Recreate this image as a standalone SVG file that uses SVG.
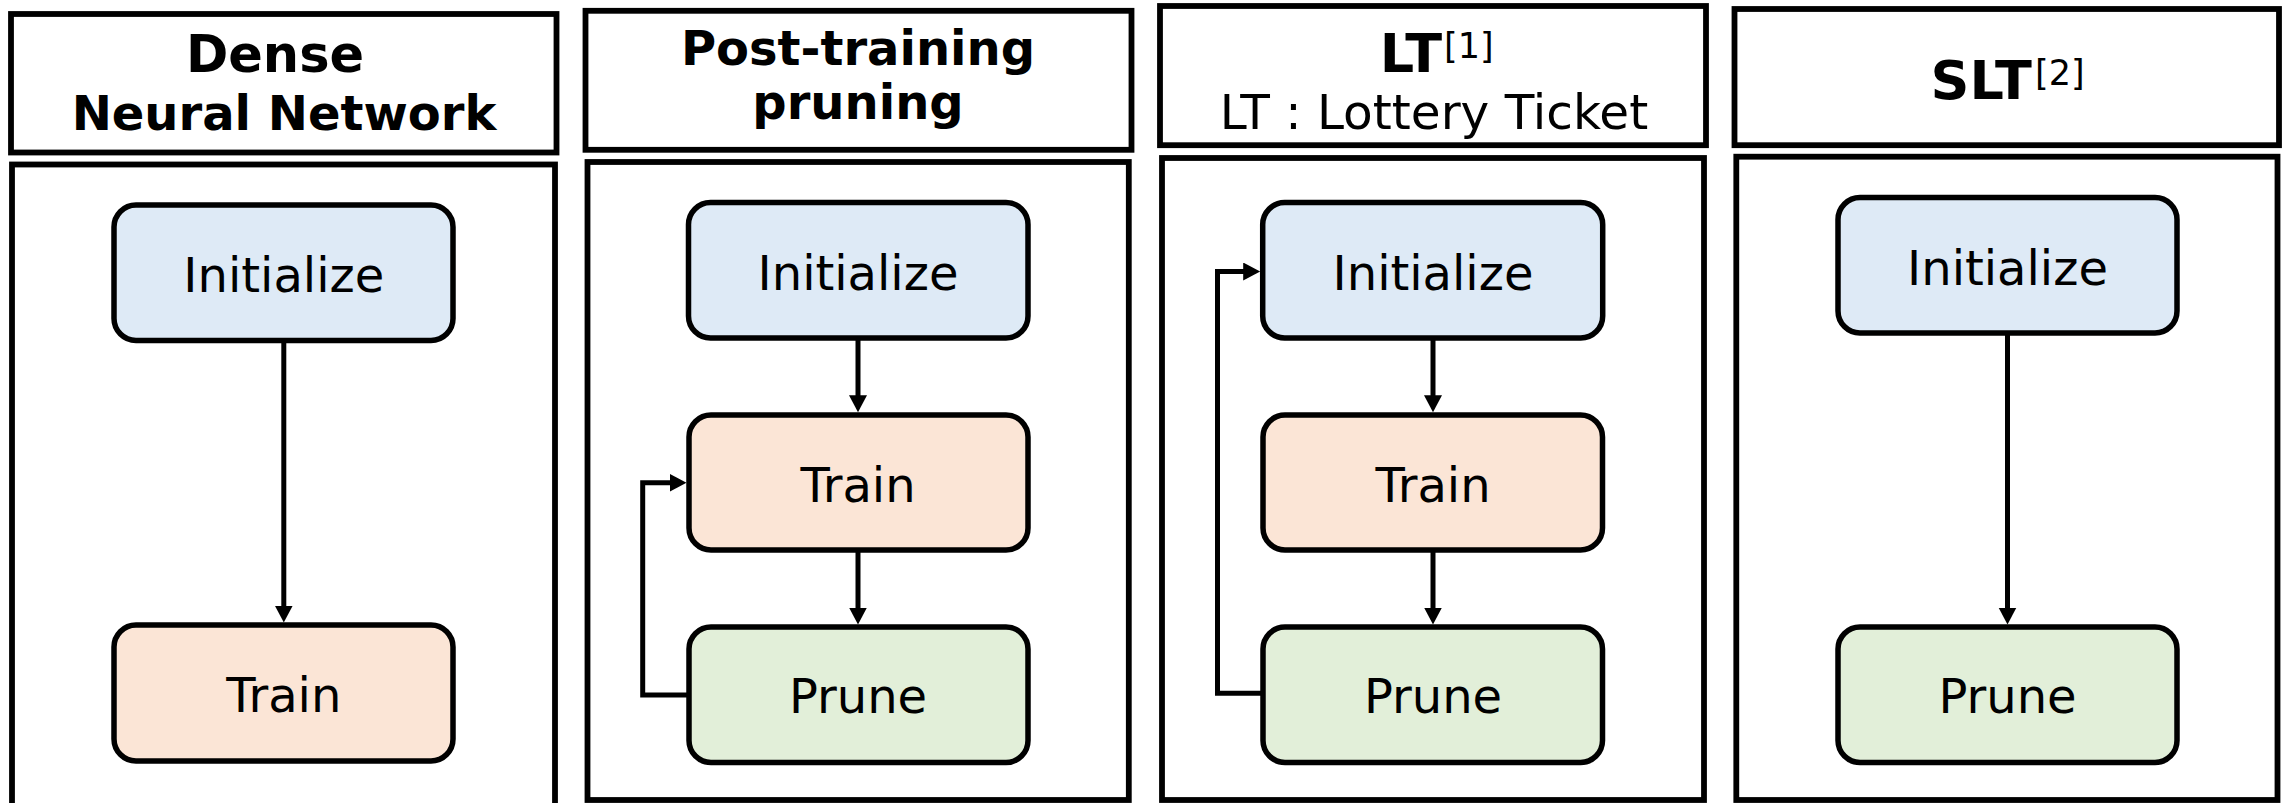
<svg xmlns="http://www.w3.org/2000/svg" width="2282" height="803" viewBox="0 0 2282 803">
  <defs>
    <style>
      .frame { fill: #ffffff; stroke: #000000; stroke-width: 5.8; }
      .box { stroke: #000000; stroke-width: 5.5; }
      .init { fill: #DEEAF6; }
      .train { fill: #FBE5D6; }
      .prune { fill: #E2EFD9; }
      .lbl { font-family: "DejaVu Sans", Verdana, sans-serif; font-size: 48px; fill: #000000; text-anchor: middle; }
      .ttl { font-family: "DejaVu Sans", Verdana, sans-serif; font-weight: bold; font-size: 48px; fill: #000000; text-anchor: middle; }
      .big { font-family: "DejaVu Sans", Verdana, sans-serif; font-weight: bold; font-size: 54px; fill: #000000; text-anchor: end; }
      .sup { font-family: "DejaVu Sans", Verdana, sans-serif; font-size: 35px; fill: #000000; text-anchor: start; }
      .edge { fill: none; stroke: #000000; stroke-width: 5; }
    </style>
    <marker id="head" markerUnits="userSpaceOnUse" markerWidth="18" markerHeight="19" refX="8" refY="9" orient="auto">
      <path d="M0,0 L17,9 L0,18 z" fill="#000000"/>
    </marker>
  </defs>

  <rect width="2282" height="803" fill="#ffffff"/>

  <!-- Column 1: dense network -->
  <g id="dense-panel">
    <rect class="frame" x="11" y="14" width="545.5" height="138.5"/>
    <text class="ttl" x="275" y="71.7" style="font-size:51px">Dense</text>
    <text class="ttl" x="284" y="130">Neural Network</text>
    <rect class="frame" x="12" y="164.5" width="543" height="700"/>
  </g>
  <g id="dense-init">
    <rect class="box init" x="114" y="205" width="339" height="135.5" rx="22"/>
    <text class="lbl" x="283.8" y="291.7">Initialize</text>
  </g>
  <g id="dense-train">
    <rect class="box train" x="114" y="625" width="339" height="136" rx="22"/>
    <text class="lbl" x="283.8" y="711.7">Train</text>
  </g>

  <!-- Column 2: post-training pruning -->
  <g id="post-panel">
    <rect class="frame" x="585.5" y="10.8" width="546" height="139"/>
    <text class="ttl" x="858" y="65">Post-training</text>
    <text class="ttl" x="858" y="119">pruning</text>
    <rect class="frame" x="587.5" y="162" width="541.3" height="638"/>
  </g>
  <g id="post-init">
    <rect class="box init" x="688.5" y="202.5" width="339.5" height="135.5" rx="22"/>
    <text class="lbl" x="858" y="290">Initialize</text>
  </g>
  <g id="post-train">
    <rect class="box train" x="689" y="415" width="339" height="135" rx="22"/>
    <text class="lbl" x="858" y="501.7">Train</text>
  </g>
  <g id="post-prune">
    <rect class="box prune" x="689" y="627" width="339" height="135.5" rx="22"/>
    <text class="lbl" x="858" y="713.3">Prune</text>
  </g>

  <!-- Column 3: lottery ticket -->
  <g id="lt-panel">
    <rect class="frame" x="1160" y="6" width="546" height="139.2"/>
    <text class="big" x="1442" y="71.7">LT</text>
    <text class="sup" x="1444" y="58">[1]</text>
    <text class="lbl" x="1434" y="129.3" style="font-size:48.5px">LT : Lottery Ticket</text>
    <rect class="frame" x="1162" y="158" width="542" height="642"/>
  </g>
  <g id="lt-init">
    <rect class="box init" x="1262.7" y="202.5" width="340" height="135.5" rx="22"/>
    <text class="lbl" x="1433" y="290">Initialize</text>
  </g>
  <g id="lt-train">
    <rect class="box train" x="1263" y="415" width="339.5" height="135" rx="22"/>
    <text class="lbl" x="1433" y="501.7">Train</text>
  </g>
  <g id="lt-prune">
    <rect class="box prune" x="1263" y="627" width="339.5" height="135.5" rx="22"/>
    <text class="lbl" x="1433" y="713.3">Prune</text>
  </g>

  <!-- Column 4: strong lottery ticket -->
  <g id="slt-panel">
    <rect class="frame" x="1734.5" y="9" width="544.5" height="136.2"/>
    <text class="big" x="2031.8" y="99">SLT</text>
    <text class="sup" x="2035" y="85">[2]</text>
    <rect class="frame" x="1736.3" y="156.7" width="541.2" height="643.3"/>
  </g>
  <g id="slt-init">
    <rect class="box init" x="1838" y="197.5" width="339" height="135.5" rx="22"/>
    <text class="lbl" x="2007.5" y="285">Initialize</text>
  </g>
  <g id="slt-prune">
    <rect class="box prune" x="1838" y="627" width="339" height="135.5" rx="22"/>
    <text class="lbl" x="2007.5" y="713.3">Prune</text>
  </g>

  <!-- Connectors -->
  <g id="connectors">
    <path class="edge" marker-end="url(#head)" d="M283.8,340.5 V613.5"/>

    <path class="edge" marker-end="url(#head)" d="M858,338 V403.3"/>
    <path class="edge" marker-end="url(#head)" d="M858,550 V615.5"/>
    <path class="edge" marker-end="url(#head)" d="M689,695 H642.7 V482.8 H677.5"/>

    <path class="edge" marker-end="url(#head)" d="M1433,338 V403.3"/>
    <path class="edge" marker-end="url(#head)" d="M1433,550 V615.5"/>
    <path class="edge" marker-end="url(#head)" d="M1263,693.3 H1217.5 V271.5 H1251.2"/>

    <path class="edge" marker-end="url(#head)" d="M2007.5,333 V615.5"/>
  </g>
</svg>
